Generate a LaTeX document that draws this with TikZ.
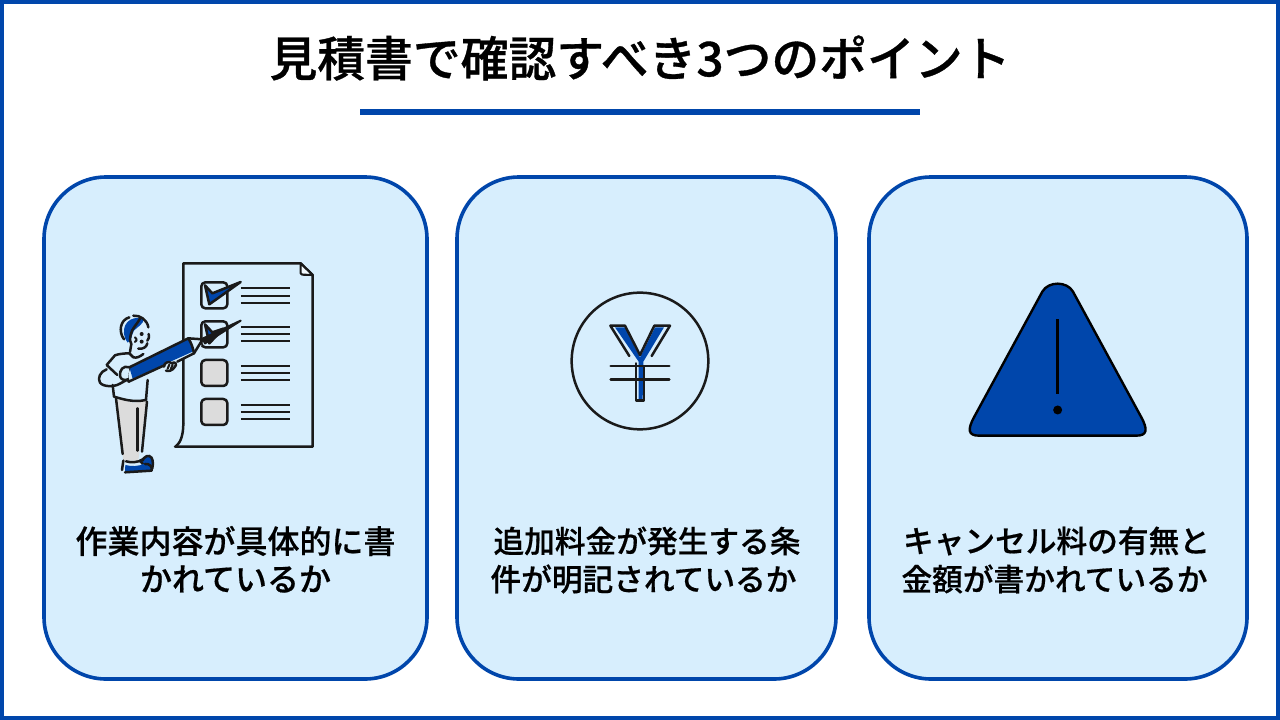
\documentclass[tikz,border=0pt]{standalone}
\usepackage{fontspec}
\newfontfamily\cjktitle[FakeBold=0.7]{Noto Sans CJK JP Medium}
\newfontfamily\cjkmed[FakeBold=0.5]{Noto Sans CJK JP Medium}
\definecolor{brand}{HTML}{0046AB}
\definecolor{cardfill}{HTML}{D7EEFD}
\definecolor{ink}{HTML}{1A1A1A}
\definecolor{boxgray}{HTML}{DCDCDC}
\tikzset{
  card/.style={draw=brand,line width=3.6pt,fill=cardfill,rounded corners=62pt},
  titletext/.style={inner sep=0pt,text=black,font=\cjktitle\fontsize{47.8}{56}\selectfont},
  bodytext/.style={inner sep=0pt,text=black,font=\cjkmed\fontsize{30.7}{38}\selectfont},
  bodywide/.style={inner sep=0pt,text=black,font=\cjkmed\fontsize{32}{38}\selectfont},
  ink line/.style={draw=ink,line width=2.5pt,line cap=round,line join=round},
  thin ink/.style={draw=ink,line width=2.1pt,line cap=round,line join=round},
  icon z/.style={x=0.3333pt,y=-0.3333pt},
}
\begin{document}
\begin{tikzpicture}[x=1pt,y=-1pt]
\useasboundingbox (0,0) rectangle (1280,720);
\fill[white] (0,0) rectangle (1280,720);
\draw[brand,line width=4pt] (2,2) rectangle (1278,718);
% title
\node[titletext] (title) at (640,58) {見積書で確認すべき3つのポイント};
\fill[brand] (360,109) rectangle (920,115);
% cards
\draw[card] (44,177) rectangle (427,679);
\draw[card] (457,177) rectangle (836,679);
\draw[card] (869,177) rectangle (1247,679);
% captions
\node[bodywide] (c1a) at (235.5,541) {作業内容が具体的に書};
\node[bodywide] (c1b) at (235.5,579) {かれているか};
\node[bodytext] (c2a) at (647,541) {追加料金が発生する条};
\node[bodytext] (c2b) at (643.5,579) {件が明記されているか};
\node[bodytext] (c3a) at (1056.5,541) {キャンセル料の有無と};
\node[bodytext] (c3b) at (1054.5,579) {金額が書かれているか};
% ---------- person and checklist (coordinates of a 3x crop at 90,250)
\begin{scope}[shift={(90,250)},icon z]
  % sheet
  \draw[ink line] (280,520) -- (280,40) -- (632,40) -- (668,75) -- (668,590) -- (255,590);
  \draw[ink line] (280,520) .. controls (280,555) and (272,578) .. (257,590);
  \draw[thin ink,fill=white!70!cardfill] (632,40) -- (632,70) .. controls (632,73) and (634,74) .. (637,74) -- (668,75) -- cycle;
  % boxes
  \path[ink line,fill=cardfill,rounded corners=4pt] (334,97) rectangle (412,175);
  \path[ink line,fill=cardfill,rounded corners=4pt] (334,214) rectangle (412,292);
  \path[ink line,fill=boxgray,rounded corners=4pt] (334,330) rectangle (412,408);
  \path[ink line,fill=boxgray,rounded corners=4pt] (334,447) rectangle (412,525);
  % lines
  \foreach \yy in {115,137,158,231,253,274,347,369,391,464,486,508}{
    \draw[thin ink,line cap=butt] (453,\yy) -- (600,\yy);
  }
  % check of first box
  \draw[ink line,fill=brand] (345,106) -- (367,130) -- (452,96) -- (358,163) -- cycle;
  % pants
  \path[fill=boxgray] (78,445) -- (100,632) -- (145,632) -- (170,452) -- (130,458) -- cycle;
  \draw[ink line] (78,445) -- (98,612);
  \draw[ink line] (143,475) -- (143,602);
  \draw[ink line] (171,455) -- (156,605);
  % shoes
  \draw[ink line,fill=brand] (150,632) .. controls (162,630) and (165,615) .. (178,618) .. controls (190,622) and (190,640) .. (187,655) -- (165,650) -- cycle;
  \fill[brand] (105,665) -- (106,645) .. controls (125,650) and (145,650) .. (165,640) .. controls (178,640) and (188,650) .. (185,662) -- cycle;
  \draw[ink line] (105,667) -- (185,662) .. controls (188,650) and (178,640) .. (165,642);
  \draw[ink line] (108,634) .. controls (125,640) and (145,635) .. (160,630);
  \draw[ink line] (100,632) -- (96,660);
  % shirt
  \path[fill=cardfill] (75,315) -- (122,310) -- (155,325) -- (200,320) -- (173,390) -- (170,450) -- (130,455) -- (72,440) -- (62,405) -- (30,395) -- (50,345) -- cycle;
  \draw[ink line] (160,312) .. controls (150,320) and (140,325) .. (130,322) -- (118,310) .. controls (103,310) and (85,312) .. (75,316) -- (50,345) -- (82,375);
  \draw[ink line] (124,282) -- (120,306);
  \draw[ink line] (68,405) -- (72,440) .. controls (100,448) and (130,458) .. (168,450) -- (173,390);
  \draw[ink line] (50,358) .. controls (30,365) and (22,385) .. (30,398) .. controls (38,410) and (70,412) .. (88,402) -- (110,390);
  % head
  \path[fill=brand] (105,265) .. controls (92,225) and (118,195) .. (162,206) .. controls (160,224) and (140,232) .. (132,242) .. controls (124,254) and (126,272) .. (113,278) -- cycle;
  \draw[ink line] (102,268) .. controls (85,245) and (90,210) .. (118,202);
  \draw[ink line] (130,197) .. controls (150,195) and (172,210) .. (175,232);
  \draw[ink line] (150,206) .. controls (140,225) and (125,235) .. (122,255) .. controls (120,268) and (118,275) .. (124,282);
  \draw[thin ink] (135,262) .. controls (142,268) and (140,275) .. (135,276);
  \draw[ink line] (176,252) .. controls (178,262) and (176,268) .. (172,272);
  \draw[ink line] (145,296) .. controls (158,298) and (170,292) .. (172,280);
  \fill[ink] (155,252) circle (6);
  \fill[ink] (155,275) circle (6);
  % pen
  \path[fill=cardfill] (114,352) -- (295,265) -- (335,285) -- (312,312) -- (120,400) -- cycle;
  \fill[brand] (118,352) -- (295,266) -- (310,304) -- (128,386) -- cycle;
  \draw[ink line] (118,352) -- (295,265) .. controls (305,280) and (310,298) .. (312,310);
  \draw[ink line] (116,395) -- (225,345);
  \draw[ink line] (262,335) -- (312,310);
  \draw[ink line] (118,352) .. controls (110,370) and (110,385) .. (116,395);
  \draw[ink line] (295,265) -- (338,268) -- (312,310);
  % second check, with the pen tip over it
  \draw[ink line,fill=brand] (345,223) -- (367,247) -- (400,236) -- (358,280) -- cycle;
  \draw[thin ink,fill=ink] (338,266) -- (452,212) -- (345,280) -- cycle;
  % hands
  \draw[ink line,fill=cardfill] (118,352) .. controls (100,345) and (88,360) .. (90,378) .. controls (92,390) and (105,392) .. (114,388);
  \draw[ink line,fill=cardfill] (222,350) .. controls (222,337) and (238,332) .. (245,340) .. controls (256,332) and (262,344) .. (255,350) .. controls (248,362) and (235,365) .. (228,362);
  \draw[thin ink] (238,344) -- (233,356);
  \draw[thin ink] (248,344) -- (243,356);
\end{scope}
% ---------- yen coin (3x crop at 560,280)
\begin{scope}[shift={(560,280)},icon z]
  \draw[ink line] (240,243) circle (205);
  \fill[brand] (165,142) -- (195,142) -- (240,232) -- (285,142) -- (312,142) -- (250,245) -- (248,360) -- (236,360) -- (236,245) -- cycle;
  \draw[ink line] (208,228) -- (151,137) -- (195,137) -- (240,225) -- (283,137) -- (330,137) -- (275,228);
  \draw[ink line] (228,250) -- (228,362) -- (252,362) -- (252,262);
  \draw[ink line] (152,258) -- (328,258);
  \draw[ink line] (152,298) -- (328,298);
\end{scope}
% ---------- warning triangle (3x crop at 955,270)
\begin{scope}[shift={(955,270)},icon z]
  \draw[draw=black,line width=2.4pt,fill=brand,line join=round] (262,65) .. controls (280,33) and (336,33) .. (354,65) -- (558,440) .. controls (580,480) and (576,497) .. (544,497) -- (72,497) .. controls (40,497) and (36,480) .. (58,440) -- cycle;
  \draw[draw=black,line width=2.4pt] (308,148) -- (308,371);
  \fill[black] (308,420) circle (13.5);
\end{scope}
\end{tikzpicture}
\end{document}
